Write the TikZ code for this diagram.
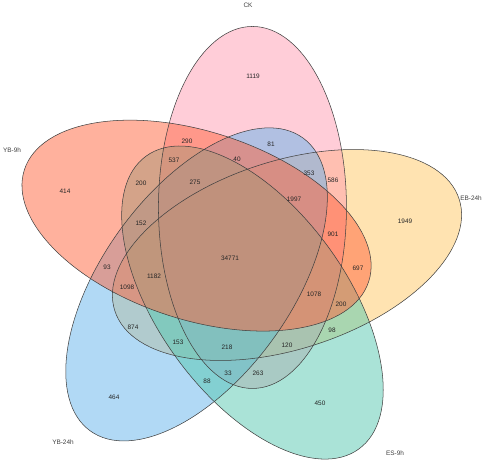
\documentclass[tikz,border=0pt]{standalone}
\usepackage{fontspec}
\setmainfont{Liberation Sans}
\usetikzlibrary{positioning}

\definecolor{ckcol}{RGB}{255,155,178}
\definecolor{ybninecol}{RGB}{255,100,60}
\definecolor{ebcol}{RGB}{255,200,100}
\definecolor{ybtwfcol}{RGB}{100,180,235}
\definecolor{escol}{RGB}{85,200,175}

\begin{document}
\begin{tikzpicture}[
    x=0.03cm, y=0.03cm,
    setfill/.style={fill opacity=0.5},
    setline/.style={draw=black!75, line width=0.45pt},
    num/.style={font=\fontsize{5.5}{6}\selectfont, text=black!85, inner sep=0pt},
    cat/.style={font=\fontsize{5.5}{6}\selectfont, text=black!75, inner sep=0pt}
]

\useasboundingbox (0,0) rectangle (484,462);
\coordinate (ctr) at (237,207);

% Five sets - fills (yellow, pink, blue, teal, salmon)
\foreach \ang/\col in {360/ebcol,72/ckcol,216/ybtwfcol,288/escol,144/ybninecol}{
  \begin{scope}[shift={(ctr)}, rotate=\ang]
    \fill[\col, setfill, rotate around={18:(50,0)}] (50,0) ellipse [x radius=181, y radius=94];
  \end{scope}
}
% Five sets - outlines
\foreach \ang in {72,144,216,288,360}{
  \begin{scope}[shift={(ctr)}, rotate=\ang]
    \draw[setline, rotate around={18:(50,0)}] (50,0) ellipse [x radius=181, y radius=94];
  \end{scope}
}

% Set labels
\node[cat] (ck) at (248,457) {CK};
\node[cat] (ybnine) at (12,312) {YB-9h};
\node[cat] (eb) at (471,264) {EB-24h};
\node[cat] (ybtwf) at (63,20) {YB-24h};
\node[cat] (es) at (395,9) {ES-9h};

% Region counts
\node[num] (v1119) at (253,386) {1119};
\node[num] (v290) at (187,321) {290};
\node[num] (v81) at (271,318) {81};
\node[num] (v537) at (174,302) {537};
\node[num] (v40) at (237,303) {40};
\node[num] (v353) at (309,289) {353};
\node[num] (v586) at (333,282) {586};
\node[num] (v414) at (65,271) {414};
\node[num] (v200a) at (141,279) {200};
\node[num] (v275) at (195,280) {275};
\node[num] (v1997) at (294,263) {1997};
\node[num] (v1949) at (405,241) {1949};
\node[num] (v152) at (141,239) {152};
\node[num] (v901) at (333,228) {901};
\node[num] (v697) at (358,194) {697};
\node[num] (v34771) at (230,204) {34771};
\node[num] (v93) at (107,195) {93};
\node[num] (v1182) at (154,186) {1182};
\node[num] (v1098) at (127,175) {1098};
\node[num] (v1078) at (314,168) {1078};
\node[num] (v200b) at (341,158) {200};
\node[num] (v874) at (133,135) {874};
\node[num] (v98) at (332,132) {98};
\node[num] (v153) at (178,120) {153};
\node[num] (v218) at (227,115) {218};
\node[num] (v120) at (287,117) {120};
\node[num] (v33) at (228,89) {33};
\node[num] (v263) at (258,89) {263};
\node[num] (v88) at (207,81) {88};
\node[num] (v464) at (114,65) {464};
\node[num] (v450) at (320,59) {450};

\end{tikzpicture}
\end{document}
